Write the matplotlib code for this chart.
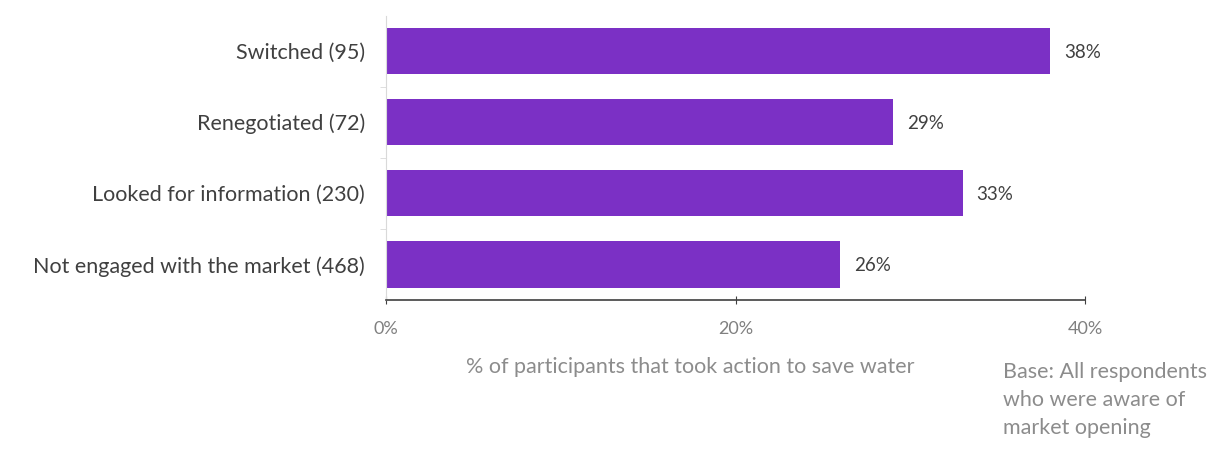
import matplotlib
matplotlib.use("Agg")
import matplotlib.pyplot as plt
from matplotlib.ticker import FuncFormatter

categories = ["Switched (95)", "Renegotiated (72)", "Looked for information (230)",
              "Not engaged with the market (468)"]
values = [38, 29, 33, 26]
xticks = [0, 20, 40]
xlabel = "% of participants that took action to save water"
note = "Base: All respondents\nwho were aware of\nmarket opening"

plt.rcParams['font.family'] = ['Lato', 'DejaVu Sans']

fig = plt.figure(figsize=(12.31, 4.53), dpi=100)
ax = fig.add_axes([386/1231, 1 - 300/453, (1085 - 386)/1231, (300 - 15.5)/453])

pos = list(range(len(categories)))
ax.barh(pos, values, height=0.65, color="#7B30C5")
ax.set_ylim(len(categories) - 0.5, -0.5)
ax.set_xlim(0, 40)

for p, v in zip(pos, values):
    ax.text(v + 0.8, p + 0.02, f"{v}%", va="center", ha="left", fontsize=13.5, color="#404040")

ax.set_yticks(pos)
ax.set_yticklabels(categories, fontsize=15.5, color="#404040")
ax.set_yticks([i + 0.5 for i in pos[:-1]], minor=True)
ax.tick_params(axis="y", which="major", length=0, pad=15)
ax.tick_params(axis="y", which="minor", length=4, color="#d9d9d9")

ax.set_xticks(xticks)
ax.xaxis.set_major_formatter(FuncFormatter(lambda x, _: f"{x:.0f}%"))
ax.tick_params(axis="x", length=6, direction="inout", color="#404040", labelsize=13,
               labelcolor="#808080", pad=12)

ax.spines["top"].set_visible(False)
ax.spines["right"].set_visible(False)
ax.spines["left"].set_color("#d9d9d9")
ax.spines["bottom"].set_color("#404040")
ax.spines["bottom"].set_linewidth(1.2)

fig.text(690/1231, 1 - 367/453, xlabel, ha="center", va="center", fontsize=15.5, color="#8c8c8c")
fig.text(1003/1231, 1 - 362/453, note, ha="left", va="top", fontsize=15.5,
         color="#8c8c8c", linespacing=1.5)

fig.savefig("out.png", dpi=100)
